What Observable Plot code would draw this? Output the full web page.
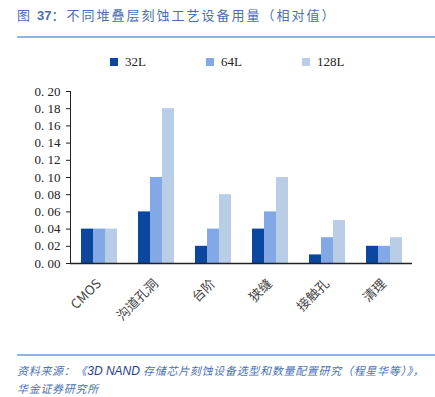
<!DOCTYPE html>
<html><head><meta charset="utf-8">
<script src="https://cdn.jsdelivr.net/npm/d3@7"></script>
<script src="https://cdn.jsdelivr.net/npm/@observablehq/plot@0.6"></script>
<style>
body{margin:0;width:435px;height:397px;overflow:hidden;background:#fff;position:relative;font-family:"Noto Sans CJK SC",sans-serif;}
#chart{position:absolute;left:0;top:0;}
.title{position:absolute;left:17px;top:5px;font-size:13px;color:#4a6fae;white-space:nowrap;letter-spacing:2px;}
.title b{font-family:Arial,"Liberation Sans",sans-serif;font-weight:bold;letter-spacing:0;}
.hline{position:absolute;left:17px;right:0;height:2px;background:#8fb4e3;}
.legend{position:absolute;top:54px;left:0;width:435px;height:16px;font-family:"Liberation Serif",serif;font-size:13px;color:#222;}
.legend span{position:absolute;top:0;display:flex;align-items:center;white-space:nowrap;}
.legend i{display:inline-block;width:8px;height:8px;margin-right:7px;}
.foot{position:absolute;left:17px;font-size:11px;font-style:italic;color:#4a72b8;white-space:nowrap;letter-spacing:0.7px;}
.foot b{font-family:Arial,"Liberation Sans",sans-serif;font-weight:normal;color:#1f3f8f;font-size:12px;letter-spacing:0;}
</style></head>
<body>
<div class="title">图 <b>37</b>：不同堆叠层刻蚀工艺设备用量（相对值）</div>
<div class="hline" style="top:36px"></div>
<div class="legend" id="legend"></div>
<div id="chart"></div>
<div class="hline" style="top:354px;height:1.5px"></div>
<div class="foot" style="top:362px">资料来源：《<b>3D NAND</b> 存储芯片刻蚀设备选型和数量配置研究（程星华等）》，</div>
<div class="foot" style="top:380px">华金证券研究所</div>
<script>
const categories = ["CMOS", "沟道孔洞", "台阶", "狭缝", "接触孔", "清理"];
const seriesNames = ["32L", "64L", "128L"];
const v32 = [0.04, 0.06, 0.02, 0.04, 0.01, 0.02];
const v64 = [0.04, 0.10, 0.04, 0.06, 0.03, 0.02];
const v128 = [0.04, 0.18, 0.08, 0.10, 0.05, 0.03];
const colors = ["#0b479e", "#82a9e5", "#b9cde6"];
const yTicks = [0, 0.02, 0.04, 0.06, 0.08, 0.10, 0.12, 0.14, 0.16, 0.18, 0.20];

const seriesValues = [v32, v64, v128];
const data = [];
categories.forEach((c, i) => seriesNames.forEach((s, j) => data.push({cat: c, series: s, value: seriesValues[j][i]})));

// legend
const legendX = [110, 206, 302];
const lg = document.getElementById("legend");
seriesNames.forEach((s, j) => {
  const sp = document.createElement("span");
  sp.style.left = legendX[j] + "px";
  sp.innerHTML = `<i style="background:${colors[j]}"></i>${s}`;
  lg.appendChild(sp);
});

const chart = Plot.plot({
  width: 435,
  height: 397,
  marginLeft: 69,
  marginRight: 22,
  marginTop: 91,
  marginBottom: 134,
  style: {fontFamily: "'Liberation Serif','Noto Sans CJK SC',serif", fontSize: "13px", color: "#222", background: "transparent"},
  fx: {domain: categories, padding: 0, label: null, tickRotate: -45, tickSize: 0, tickPadding: 18,
       tickFormat: d => d},
  x: {domain: seriesNames, axis: null, paddingInner: 0, paddingOuter: 0.79},
  y: {domain: [0, 0.2], ticks: yTicks, tickFormat: d => d3.format(".2f")(d).replace(".", ". "), label: null,
      line: true, tickSize: 4, tickPadding: 6},
  color: {domain: seriesNames, range: colors},
  marks: [
    Plot.barY(data, {fx: "cat", x: "series", y: "value", fill: "series"}),
    Plot.ruleY([0], {stroke: "#222", strokeWidth: 1.5})
  ]
});
document.getElementById("chart").appendChild(chart);
chart.querySelectorAll("g[aria-label='fx-axis tick label'] text").forEach(t => { t.style.fontFamily = "'Noto Sans CJK SC',sans-serif"; t.style.fill = "#444"; });
</script>
</body></html>
